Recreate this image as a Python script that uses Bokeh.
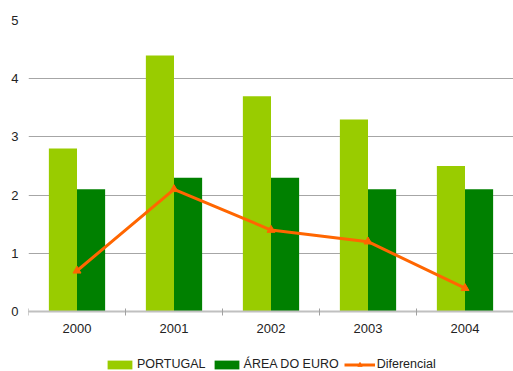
from bokeh.plotting import figure
from bokeh.models import FixedTicker, Legend, LegendItem, Range1d
from bokeh.embed import file_html
from bokeh.resources import INLINE

years = ["2000", "2001", "2002", "2003", "2004"]
portugal = [2.8, 4.4, 3.7, 3.3, 2.5]
euro = [2.1, 2.3, 2.3, 2.1, 2.1]
diferencial = [0.7, 2.1, 1.4, 1.2, 0.4]
y_ticks = [0, 1, 2, 3, 4, 5]

FONT = "Liberation Sans"
n = len(years)
centers = [i + 0.5 for i in range(n)]
bw = 0.29

# frame runs from y=20 px to the bottom edge; value 0 sits 60 px above the bottom
y_top = 5
y_bottom = -60 / 291 * y_top

p = figure(width=513, height=371, x_range=Range1d(0, n), y_range=Range1d(y_bottom, y_top),
           output_backend="svg", toolbar_location=None,
           min_border_left=28, min_border_right=0, min_border_top=20, min_border_bottom=0)
p.outline_line_color = None
p.background_fill_color = "white"
p.border_fill_color = "white"

r1 = p.vbar(x=[c - bw / 2 for c in centers], top=portugal, width=bw, bottom=0,
            fill_color="#99CC00", line_color=None)
r2 = p.vbar(x=[c + bw / 2 for c in centers], top=euro, width=bw, bottom=0,
            fill_color="#008000", line_color=None)
r3 = p.line(x=centers, y=diferencial, line_color="#FF6600", line_width=3)
r4 = p.scatter(x=centers, y=diferencial, marker="triangle", size=8,
               fill_color="#FF6600", line_color="#FF6600")

# axes
p.xgrid.grid_line_color = None
p.ygrid.grid_line_color = "#A6A6A6"
p.ygrid.grid_line_width = 1.2
p.yaxis.ticker = FixedTicker(ticks=y_ticks)
p.yaxis.axis_line_color = None
p.yaxis.major_tick_line_color = None
p.yaxis.minor_tick_line_color = None
p.yaxis.major_tick_out = 0
p.yaxis.major_tick_in = 0
p.yaxis.major_label_standoff = 10
p.yaxis.major_label_text_font = FONT
p.yaxis.major_label_text_font_size = "13px"
p.yaxis.major_label_text_color = "#222222"

p.xaxis.fixed_location = 0
p.xaxis.ticker = FixedTicker(ticks=centers, minor_ticks=list(range(n + 1)))
p.xaxis.major_label_overrides = {c: y for c, y in zip(centers, years)}
p.xaxis.axis_line_color = "#C0C0C0"
p.xaxis.axis_line_width = 2
p.xaxis.major_tick_line_color = None
p.xaxis.major_tick_out = 0
p.xaxis.major_tick_in = 0
p.xaxis.minor_tick_line_color = "#A0A0A0"
p.xaxis.minor_tick_out = 4
p.xaxis.minor_tick_in = 3
p.xaxis.major_label_standoff = 8
p.xaxis.major_label_text_font = FONT
p.xaxis.major_label_text_font_size = "13px"
p.xaxis.major_label_text_color = "#222222"

legend = Legend(items=[
    LegendItem(label="PORTUGAL", renderers=[r1]),
    LegendItem(label="ÁREA DO EURO", renderers=[r2]),
    LegendItem(label="Diferencial", renderers=[r3, r4]),
], orientation="horizontal", location=(76, 0))
legend.background_fill_alpha = 0
legend.border_line_color = None
legend.padding = 0
legend.margin = 0
legend.spacing = 5
legend.glyph_width = 31
legend.glyph_height = 11
legend.label_height = 12
legend.label_standoff = 2
legend.label_text_font = FONT
legend.label_text_font_size = "12.5px"
legend.label_text_color = "#222222"
p.add_layout(legend)

open("out.html", "w").write(file_html(p, INLINE))
